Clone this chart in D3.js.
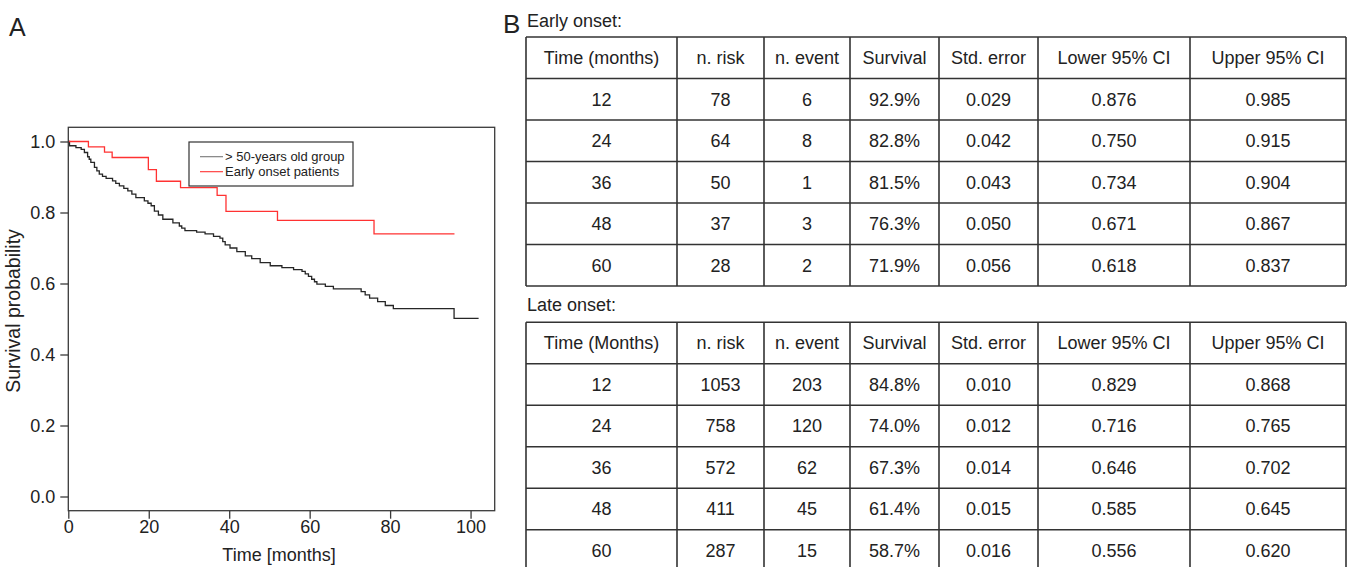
<!DOCTYPE html>
<html>
<head>
<meta charset="utf-8">
<script src="https://cdn.jsdelivr.net/npm/d3@7"></script>
<style>
  body { margin: 0; background: #fff; }
  svg { display: block; }
  text { font-family: "Liberation Sans", Arial, Helvetica, sans-serif; fill: #222; }
</style>
</head>
<body>
<svg id="fig" width="1350" height="567"></svg>
<script>
// ---- Kaplan–Meier curves: event times (months) and survival after each event ----
const lateTimes = [0.3, 1.9, 3.2, 4.0, 4.8, 5.2, 5.6, 6.5, 7.1, 7.7, 8.5, 9.4, 11.0, 11.8, 12.7,
  13.8, 14.8, 15.8, 16.8, 18.9, 19.8, 20.6, 21.4, 22.4, 23.5, 26.0, 27.6, 28.2, 29.0, 31.9,
  34.0, 36.1, 37.7, 38.4, 39.0, 40.2, 41.9, 44.0, 45.6, 47.7, 50.2, 53.1, 56.0, 58.1, 58.9,
  59.7, 60.5, 61.2, 61.8, 63.9, 65.9, 72.8, 73.8, 74.9, 76.9, 78.8, 80.8, 95.9];
const lateSurv = [0.988, 0.983, 0.978, 0.969, 0.957, 0.950, 0.941, 0.927, 0.917, 0.908, 0.902,
  0.896, 0.889, 0.882, 0.875, 0.868, 0.861, 0.852, 0.842, 0.833, 0.826, 0.819, 0.804, 0.793,
  0.781, 0.771, 0.762, 0.756, 0.749, 0.745, 0.740, 0.733, 0.728, 0.718, 0.709, 0.700, 0.690,
  0.678, 0.670, 0.659, 0.650, 0.645, 0.639, 0.634, 0.627, 0.620, 0.612, 0.605, 0.598, 0.592,
  0.585, 0.577, 0.568, 0.559, 0.549, 0.538, 0.529, 0.502];
const lateLastFollowUp = 102;

const earlyTimes = [5.0, 9.0, 10.9, 19.9, 21.9, 27.9, 37.0, 39.2, 52.0, 76.0];
const earlySurv = [0.985, 0.970, 0.955, 0.921, 0.888, 0.870, 0.848, 0.803, 0.778, 0.740];
const earlyLastFollowUp = 96;

const seriesNames = ["> 50-years old group", "Early onset patients"];
const xTicks = [0, 20, 40, 60, 80, 100];
const yTicks = [0.0, 0.2, 0.4, 0.6, 0.8, 1.0];

// ---- Life tables ----
const earlyHeader = ["Time (months)", "n. risk", "n. event", "Survival", "Std. error", "Lower 95% CI", "Upper 95% CI"];
const earlyTime = [12, 24, 36, 48, 60];
const earlyRisk = [78, 64, 50, 37, 28];
const earlyEvent = [6, 8, 1, 3, 2];
const earlySurvival = ["92.9%", "82.8%", "81.5%", "76.3%", "71.9%"];
const earlyStdErr = ["0.029", "0.042", "0.043", "0.050", "0.056"];
const earlyLower = ["0.876", "0.750", "0.734", "0.671", "0.618"];
const earlyUpper = ["0.985", "0.915", "0.904", "0.867", "0.837"];

const lateHeader = ["Time (Months)", "n. risk", "n. event", "Survival", "Std. error", "Lower 95% CI", "Upper 95% CI"];
const lateTime = [12, 24, 36, 48, 60];
const lateRisk = [1053, 758, 572, 411, 287];
const lateEvent = [203, 120, 62, 45, 15];
const lateSurvival = ["84.8%", "74.0%", "67.3%", "61.4%", "58.7%"];
const lateStdErr = ["0.010", "0.012", "0.014", "0.015", "0.016"];
const lateLower = ["0.829", "0.716", "0.646", "0.585", "0.556"];
const lateUpper = ["0.868", "0.765", "0.702", "0.645", "0.620"];

const svg = d3.select("#fig");

// ================= Panel A: survival curves =================
const plot = { left: 68.3, right: 494.7, top: 127.3, bottom: 510.7 };
const x = d3.scaleLinear().domain([0, 106]).range([plot.left, plot.right]);
const y = d3.scaleLinear().domain([-0.04, 1.04]).range([plot.bottom, plot.top]);

const stepLine = d3.line().x(d => x(d[0])).y(d => y(d[1])).curve(d3.curveStepAfter);
function kmPoints(times, surv, last) {
  const pts = [[0, 1]];
  times.forEach((t, i) => pts.push([t, surv[i]]));
  pts.push([last, surv[surv.length - 1]]);
  return pts;
}

const panelA = svg.append("g");

panelA.append("path")
  .attr("d", stepLine(kmPoints(lateTimes, lateSurv, lateLastFollowUp)))
  .attr("fill", "none").attr("stroke", "#262626").attr("stroke-width", 1.3);

panelA.append("path")
  .attr("d", stepLine(kmPoints(earlyTimes, earlySurv, earlyLastFollowUp)))
  .attr("fill", "none").attr("stroke", "#ff3232").attr("stroke-width", 1.3);

// plot frame
panelA.append("rect")
  .attr("x", plot.left).attr("y", plot.top)
  .attr("width", plot.right - plot.left).attr("height", plot.bottom - plot.top)
  .attr("fill", "none").attr("stroke", "#3a3a3a").attr("stroke-width", 1.3);

const xAxis = panelA.append("g")
  .attr("transform", `translate(0,${plot.bottom})`)
  .call(d3.axisBottom(x).tickValues(xTicks).tickFormat(d3.format("d")).tickSize(8).tickPadding(2));
const yAxis = panelA.append("g")
  .attr("transform", `translate(${plot.left},0)`)
  .call(d3.axisLeft(y).tickValues(yTicks).tickFormat(d3.format(".1f")).tickSize(8).tickPadding(5));

[xAxis, yAxis].forEach(g => {
  g.select(".domain").remove();
  g.selectAll(".tick line").attr("stroke", "#3a3a3a").attr("stroke-width", 1.3);
  g.selectAll(".tick text")
    .attr("font-family", "Liberation Sans, Arial, Helvetica, sans-serif")
    .attr("font-size", 18).attr("fill", "#222");
});

panelA.append("text")
  .attr("x", 279).attr("y", 561).attr("text-anchor", "middle")
  .attr("font-size", 18).text("Time [months]");

panelA.append("text")
  .attr("transform", "translate(19.5,311) rotate(-90)")
  .attr("text-anchor", "middle").attr("font-size", 19.5)
  .text("Survival probability");

// legend
const legend = panelA.append("g");
legend.append("rect")
  .attr("x", 189).attr("y", 142).attr("width", 164).attr("height", 44)
  .attr("fill", "#fff").attr("stroke", "#333").attr("stroke-width", 1.2);
const legendColors = ["#777", "#ff3232"];
seriesNames.forEach((name, i) => {
  const ly = 156.7 + i * 15;
  legend.append("line")
    .attr("x1", 200).attr("x2", 223).attr("y1", ly).attr("y2", ly)
    .attr("stroke", legendColors[i]).attr("stroke-width", 1.1);
  legend.append("text")
    .attr("x", 225).attr("y", ly + 4.7).attr("font-size", 13).text(name);
});

svg.append("text").attr("x", 9).attr("y", 36).attr("font-size", 25).text("A");

// ================= Panel B: life tables =================
svg.append("text").attr("x", 503).attr("y", 32.5).attr("font-size", 26).text("B");

const colEdges = [526, 677, 764, 850, 939, 1038, 1190, 1346];
const rowH = 41.5;

function drawTable(top, header, cols) {
  const g = svg.append("g");
  const rows = [header].concat(cols[0].map((_, r) => cols.map(c => c[r])));
  const nRows = rows.length;
  // horizontal rules
  for (let r = 0; r <= nRows; r++) {
    const yy = top + r * rowH;
    g.append("line").attr("x1", colEdges[0]).attr("x2", colEdges[colEdges.length - 1])
      .attr("y1", yy).attr("y2", yy).attr("stroke", "#333").attr("stroke-width", 1.6);
  }
  // vertical rules
  colEdges.forEach(cx => {
    g.append("line").attr("x1", cx).attr("x2", cx)
      .attr("y1", top).attr("y2", top + nRows * rowH)
      .attr("stroke", "#333").attr("stroke-width", 1.6);
  });
  rows.forEach((row, r) => {
    row.forEach((val, c) => {
      g.append("text")
        .attr("x", (colEdges[c] + colEdges[c + 1]) / 2)
        .attr("y", top + r * rowH + rowH / 2 + 6.4)
        .attr("text-anchor", "middle").attr("font-size", 18)
        .text(val);
    });
  });
}

svg.append("text").attr("x", 527).attr("y", 26.7).attr("font-size", 18).text("Early onset:");
drawTable(37, earlyHeader, [earlyTime, earlyRisk, earlyEvent, earlySurvival, earlyStdErr, earlyLower, earlyUpper]);

svg.append("text").attr("x", 527).attr("y", 310.5).attr("font-size", 18).text("Late onset:");
drawTable(322.3, lateHeader, [lateTime, lateRisk, lateEvent, lateSurvival, lateStdErr, lateLower, lateUpper]);
</script>
</body>
</html>
